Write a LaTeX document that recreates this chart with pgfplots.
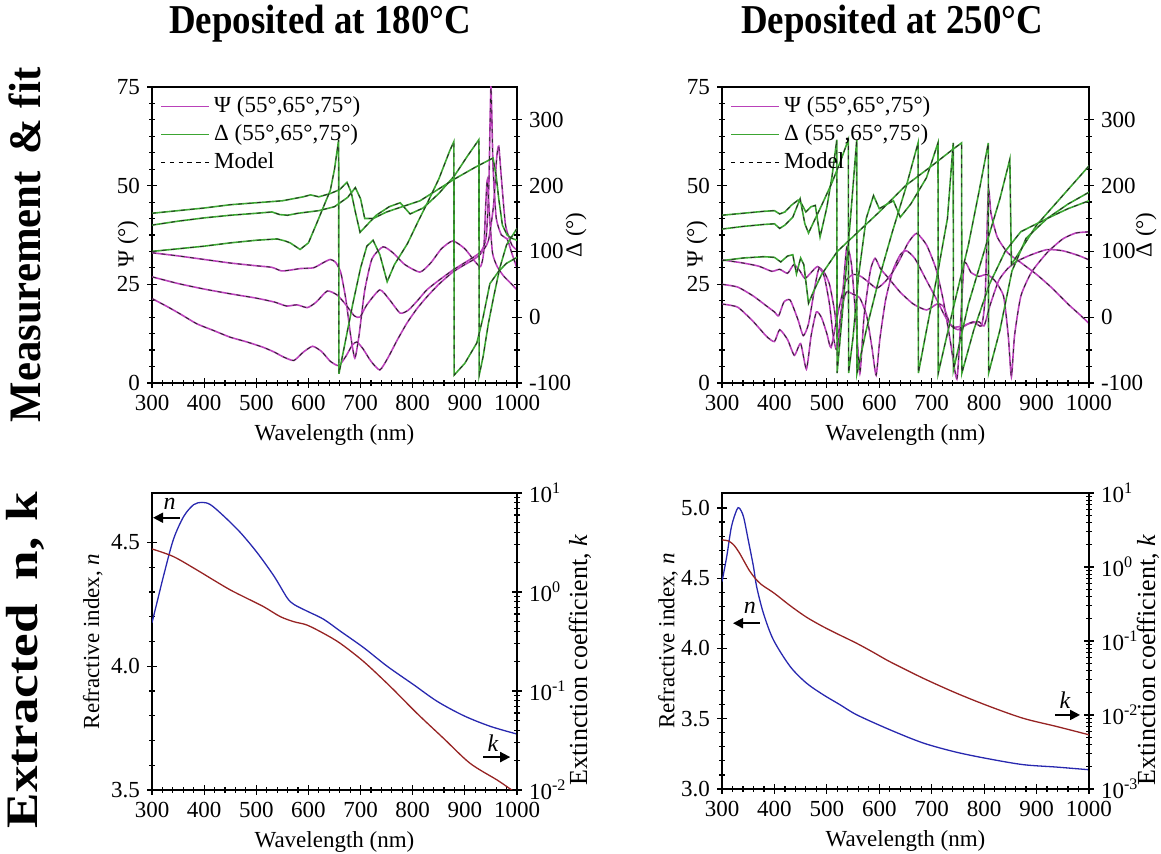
\documentclass[border=0pt]{standalone}
\usepackage{fontspec}
\setmainfont{Liberation Serif}
\usepackage{graphicx}
\usepackage{pgfplots}
\pgfplotsset{compat=1.18}
\usepackage{pgfplotstable}
\usetikzlibrary{arrows.meta}

\definecolor{psicol}{RGB}{185,65,185}
\definecolor{delcol}{RGB}{60,165,50}
\definecolor{ncol}{RGB}{40,40,175}
\definecolor{kcol}{RGB}{150,35,35}

\pgfplotsset{
  base/.style={scale only axis, xmin=300, xmax=1000, tick align=center, clip mode=individual,
    major tick length=5pt, minor tick length=3pt,
    every tick/.append style={black, line width=0.6pt},
    axis line style={line width=0.7pt},
    ticklabel style={font=\fontsize{11.5}{13}\selectfont},
    label style={font=\fontsize{11.5}{13}\selectfont},
    /pgf/number format/assume math mode=true,
    /pgf/number format/1000 sep={},
    xtick={300,400,...,1000}, minor x tick num=4,
    xlabel style={at={(axis description cs:0.5,-0.175)}, anchor=center}},
  psi/.style={psicol, line width=0.8pt, smooth, tension=0.35, forget plot},
  mpsi/.style={black!85, dash pattern=on 2pt off 2.8pt, line width=0.4pt, smooth, tension=0.35, forget plot},
  del/.style={delcol, line width=0.8pt, forget plot},
  mdel/.style={black!85, dash pattern=on 2pt off 2.8pt, line width=0.4pt, forget plot},
  leg/.style={legend style={draw=none, fill=none, at={(0.005,0.995)}, anchor=north west,
      font=\fontsize{11.5}{13}\selectfont, row sep=0.5pt},
    legend cell align=left,
    legend image code/.code={\draw[##1] (0cm,0cm) -- (0.85cm,0cm);}}
}

% ---------------- 180 C : Psi ----------------
\pgfplotstableread[row sep=\\]{x y\\
300 33.0\\ 350 32.2\\ 400 31.3\\ 450 30.4\\ 500 29.7\\ 530 29.3\\ 548 28.4\\ 565 28.6\\ 585 29.0\\ 610 29.2\\
630 30.6\\ 642 31.3\\ 652 30.6\\ 662 28.0\\ 672 21.0\\ 681 12.0\\ 689 6.3\\ 697 12.0\\ 708 23.5\\ 722 31.5\\
743 34.5\\ 762 33.0\\ 785 30.0\\ 814 28.1\\ 835 30.5\\ 855 34.0\\ 877 36.0\\ 900 34.0\\ 918 31.0\\ 930 29.5\\
936 33.0\\ 940 45.0\\ 943 51.4\\ 947 43.0\\ 953 33.0\\ 962 29.5\\ 975 27.0\\ 990 25.0\\ 1000 23.6\\
}\psiA
\pgfplotstableread[row sep=\\]{x y\\
300 26.9\\ 350 25.2\\ 400 23.8\\ 450 22.6\\ 500 21.5\\ 535 20.5\\ 558 19.5\\ 578 19.8\\ 598 19.1\\ 615 20.5\\
636 23.3\\ 655 22.3\\ 672 19.8\\ 688 17.0\\ 699 16.7\\ 712 19.8\\ 737 23.6\\ 756 21.0\\ 776 17.7\\ 792 18.5\\
810 21.0\\ 827 23.6\\ 850 26.0\\ 877 28.6\\ 900 30.5\\ 918 32.0\\ 932 33.5\\ 941 37.0\\ 946 50.0\\ 950 75.0\\
954 55.0\\ 960 42.0\\ 970 37.5\\ 981 36.5\\ 991 32.5\\ 1000 29.1\\
}\psiB
\pgfplotstableread[row sep=\\]{x y\\
300 21.4\\ 330 19.3\\ 354 17.5\\ 386 15.0\\ 418 13.3\\ 450 11.6\\ 482 10.4\\ 514 9.0\\ 535 7.8\\ 552 6.6\\
572 5.7\\ 590 7.8\\ 608 9.3\\ 625 8.0\\ 642 5.5\\ 658 4.4\\ 672 6.8\\ 684 9.6\\ 693 10.4\\ 705 8.6\\
720 5.5\\ 737 3.3\\ 753 6.5\\ 770 10.8\\ 789 15.2\\ 808 18.8\\ 827 21.8\\ 850 25.0\\ 877 28.1\\ 900 30.0\\
916 31.2\\ 930 32.7\\ 945 36.0\\ 955 45.0\\ 961 57.0\\ 965 60.0\\ 970 52.0\\ 978 40.0\\ 990 35.0\\ 1000 33.7\\
}\psiC
% ---------------- 180 C : Delta ----------------
\pgfplotstableread[row sep=\\]{x y\\
300 158\\ 350 162\\ 400 166\\ 450 171\\ 500 174\\ 550 177\\ 590 183\\ 604 186\\ 620 183\\ 642 188\\
660 194\\ 674 205\\ 682 190\\ 690 160\\ 699 129\\ 712 140\\ 730 155\\ 755 168\\ 776 174\\ 795 157\\
820 166\\ 850 188\\ 880 215\\ 905 245\\ 927 270\\ 927.5 -88\\ 935 -60\\ 945 -10\\ 955 30\\ 967 75\\
980 110\\ 1000 135\\
}\delA
\pgfplotstableread[row sep=\\]{x y\\
300 140\\ 350 146\\ 400 151\\ 450 155\\ 500 158\\ 530 160\\ 545 156\\ 560 155\\ 580 158\\ 620 162\\
650 168\\ 675 182\\ 690 197\\ 700 180\\ 708 150\\ 724 150\\ 750 160\\ 780 168\\ 814 177\\ 850 195\\
880 210\\ 920 228\\ 954 242\\ 960 215\\ 965 180\\ 972 140\\ 981 125\\ 990 120\\ 1000 117\\
}\delB
\pgfplotstableread[row sep=\\]{x y\\
300 100\\ 350 104\\ 400 108\\ 450 113\\ 500 117\\ 540 119\\ 555 116\\ 565 113\\ 584 103\\ 600 113\\
616 143\\ 630 170\\ 642 193\\ 650 225\\ 658 270\\ 658.5 -86\\ 670 -40\\ 685 20\\ 700 75\\ 712 108\\
724 117\\ 737 95\\ 751 54\\ 765 80\\ 790 112\\ 810 145\\ 827 172\\ 850 210\\ 871 253\\ 879 267\\
879.5 -88\\ 900 -70\\ 923 -39\\ 935 0\\ 948 51\\ 965 70\\ 980 82\\ 1000 91\\
}\delC
% ---------------- 250 C : Psi ----------------
\pgfplotstableread[row sep=\\]{x y\\
300 31.2\\ 340 30.4\\ 370 29.6\\ 395 28.3\\ 410 28.8\\ 425 27.8\\ 437 30.0\\ 448 28.5\\ 458 26.5\\ 470 28.0\\
482 29.5\\ 495 28.0\\ 505 25.0\\ 515 18.0\\ 523 9.0\\ 530 22.0\\ 538 34.5\\ 547 30.0\\ 556 15.0\\ 563 2.4\\
571 17.0\\ 583 28.5\\ 592 31.6\\ 602 29.0\\ 618 26.5\\ 640 23.0\\ 665 20.0\\ 690 18.5\\ 710 20.0\\ 722 19.5\\
735 15.0\\ 750 13.5\\ 770 15.0\\ 790 15.5\\ 800 14.5\\ 812 20.0\\ 828 26.0\\ 845 29.0\\ 865 31.0\\ 890 32.5\\
920 33.8\\ 950 33.5\\ 980 32.3\\ 1000 31.2\\
}\psiD
\pgfplotstableread[row sep=\\]{x y\\
300 25.0\\ 330 24.3\\ 360 22.0\\ 385 19.5\\ 400 18.0\\ 408 17.0\\ 418 20.5\\ 430 21.0\\ 445 16.0\\ 455 12.0\\
465 15.0\\ 478 25.0\\ 485 29.0\\ 495 27.0\\ 505 20.0\\ 512 12.0\\ 519 8.4\\ 527 18.0\\ 537 23.0\\ 550 22.5\\
563 21.5\\ 576 17.0\\ 586 9.0\\ 594 2.0\\ 601 11.0\\ 612 21.0\\ 626 28.5\\ 640 32.5\\ 652 33.5\\ 668 31.5\\
690 26.0\\ 710 21.0\\ 725 17.0\\ 740 14.2\\ 760 14.5\\ 780 15.5\\ 795 14.5\\ 802 22.0\\ 808 48.9\\ 813 43.0\\
825 37.0\\ 845 33.0\\ 870 30.5\\ 900 27.5\\ 930 24.0\\ 960 20.0\\ 985 17.0\\ 1000 15.1\\
}\psiE
\pgfplotstableread[row sep=\\]{x y\\
300 20.0\\ 330 19.2\\ 360 15.5\\ 385 11.8\\ 400 10.5\\ 410 13.5\\ 425 11.0\\ 438 7.0\\ 450 10.0\\ 461 3.5\\
470 12.0\\ 480 18.0\\ 490 16.5\\ 500 12.5\\ 508 9.0\\ 520 17.0\\ 535 25.5\\ 550 27.5\\ 565 27.0\\ 580 25.5\\
595 24.0\\ 610 25.5\\ 625 28.0\\ 640 31.5\\ 655 35.5\\ 671 37.9\\ 690 35.0\\ 708 29.0\\ 722 21.0\\ 735 11.0\\
748 1.0\\ 755 15.0\\ 762 30.3\\ 775 28.0\\ 790 27.0\\ 805 27.5\\ 820 26.0\\ 837 22.0\\ 846 12.0\\ 852 1.6\\
858 12.0\\ 870 22.0\\ 890 28.0\\ 920 33.0\\ 950 36.5\\ 975 38.0\\ 1000 38.3\\
}\psiF
% ---------------- 250 C : Delta ----------------
\pgfplotstableread[row sep=\\]{x y\\
300 155\\ 340 158\\ 380 161\\ 400 162\\ 410 157\\ 420 160\\ 432 170\\ 445 178\\ 452 172\\ 460 160\\
470 168\\ 478 170\\ 487 122\\ 500 167\\ 510 215\\ 519 270\\ 519.5 -85\\ 530 10\\ 545 150\\ 557 270\\
557.5 -85\\ 575 -20\\ 600 60\\ 625 130\\ 650 195\\ 674 265\\ 674.5 -85\\ 690 -20\\ 712 70\\ 730 150\\
741 265\\ 741.5 -80\\ 770 20\\ 800 100\\ 830 180\\ 849 240\\ 852 80\\ 900 140\\ 950 185\\ 1000 230\\
}\delD
\pgfplotstableread[row sep=\\]{x y\\
300 134\\ 340 138\\ 380 141\\ 400 142\\ 410 135\\ 420 140\\ 435 152\\ 449 180\\ 458 142\\ 465 128\\
475 145\\ 490 170\\ 510 205\\ 525 235\\ 541 270\\ 541.5 -85\\ 550 -30\\ 560 60\\ 575 150\\ 589 185\\
600 165\\ 615 172\\ 627 177\\ 640 152\\ 660 172\\ 690 212\\ 712 265\\ 712.5 -85\\ 740 10\\ 770 110\\
790 190\\ 808 265\\ 808.5 -85\\ 830 -20\\ 853 70\\ 880 120\\ 920 150\\ 960 172\\ 1000 190\\
}\delE
\pgfplotstableread[row sep=\\]{x y\\
300 86\\ 340 90\\ 380 92\\ 400 91\\ 412 84\\ 425 93\\ 435 95\\ 442 66\\ 450 90\\ 456 80\\
465 21\\ 475 40\\ 490 65\\ 520 100\\ 560 130\\ 600 160\\ 650 200\\ 700 230\\ 740 255\\ 757 265\\
757.5 -85\\ 780 -20\\ 810 50\\ 840 100\\ 870 130\\ 920 150\\ 960 165\\ 1000 177\\
}\delF
% ---------------- n, k ----------------
\pgfplotstableread[row sep=\\]{x y\\
300 4.176\\ 311 4.27\\ 322 4.364\\ 341 4.512\\ 361 4.606\\ 380 4.653\\ 396 4.662\\ 412 4.653\\ 438 4.606\\
470 4.539\\ 502 4.458\\ 534 4.364\\ 559 4.277\\ 572 4.250\\ 597 4.223\\ 629 4.190\\ 661 4.142\\ 706 4.075\\
751 4.000\\ 802 3.925\\ 847 3.858\\ 898 3.800\\ 949 3.757\\ 1000 3.726\\
}\nA
\pgfplotstableread[row sep=\\]{x y\\
300 2.72\\ 341 2.28\\ 386 1.67\\ 418 1.32\\ 450 1.05\\ 482 0.863\\ 514 0.711\\ 546 0.564\\ 572 0.501\\
597 0.464\\ 629 0.382\\ 661 0.303\\ 706 0.198\\ 757 0.111\\ 808 0.0596\\ 859 0.0333\\ 910 0.0186\\
962 0.0126\\ 990 0.0100\\ 1000 0.0093\\
}\kA
\pgfplotstableread[row sep=\\]{x y\\
300 4.476\\ 309 4.654\\ 318 4.867\\ 328 4.986\\ 333 5.0\\ 341 4.938\\ 350 4.773\\ 360 4.583\\ 366 4.441\\
379 4.251\\ 398 4.062\\ 430 3.872\\ 461 3.754\\ 493 3.671\\ 525 3.600\\ 557 3.528\\ 620 3.422\\ 684 3.327\\
748 3.261\\ 811 3.213\\ 875 3.173\\ 938 3.156\\ 1000 3.137\\
}\nB
\pgfplotstableread[row sep=\\]{x y\\
300 2.32\\ 312 2.25\\ 322 2.0\\ 332 1.6\\ 342 1.2\\ 352 0.9\\ 362 0.72\\ 375 0.58\\ 400 0.44\\ 430 0.30\\
461 0.21\\ 493 0.156\\ 525 0.12\\ 557 0.093\\ 589 0.07\\ 620 0.0526\\ 684 0.0313\\ 748 0.0196\\
811 0.0130\\ 875 0.0090\\ 938 0.0070\\ 1000 0.0054\\
}\kB

\begin{document}
\begin{tikzpicture}
\path[use as bounding box] (0pt,0pt) rectangle (580.5pt,427pt);

% titles
\node[font=\bfseries\fontsize{20.5}{24}\selectfont] at (160pt,415pt) {\scalebox{0.9}[1]{Deposited at 180°C}};
\node[font=\bfseries\fontsize{20.5}{24}\selectfont] at (446pt,415pt) {\scalebox{0.9}[1]{Deposited at 250°C}};
\node[rotate=90, font=\bfseries\fontsize{22.5}{26}\selectfont] at (12.5pt,304.5pt) {\scalebox{0.95}[1]{Measurement\hspace{0.4em}\& fit}};
\node[rotate=90, font=\bfseries\fontsize{22.5}{26}\selectfont] at (12.5pt,97pt) {\scalebox{1.18}[1]{Extracted\hspace{0.45em}n,\hspace{0.3em}k}};

% axis labels placed absolutely
\node[rotate=90, font=\fontsize{11.5}{13}\selectfont] at (64pt,305pt) {Ψ (°)};
\node[rotate=90, font=\fontsize{11.5}{13}\selectfont] at (348.5pt,305pt) {Ψ (°)};
\node[rotate=90, font=\fontsize{11.5}{13}\selectfont] at (288pt,309.5pt) {Δ (°)};
\node[rotate=90, font=\fontsize{11.5}{13}\selectfont] at (573pt,309.5pt) {Δ (°)};
\node[rotate=90, font=\fontsize{13}{15}\selectfont] at (290pt,97pt) {Extinction coefficient, \textit{k}};
\node[rotate=90, font=\fontsize{13}{15}\selectfont] at (574pt,97pt) {Extinction coefficient, \textit{k}};

% ===== top-left =====
\begin{axis}[base, at={(76pt,235.5pt)}, anchor=south west, width=182.5pt, height=148pt,
  ymin=0, ymax=75, ytick={0,25,50,75}, minor y tick num=5, xtick pos=left, ytick pos=left,
  xlabel={Wavelength (nm)}]
\addplot[psi] table {\psiA}; \addplot[mpsi] table {\psiA};
\addplot[psi] table {\psiB}; \addplot[mpsi] table {\psiB};
\addplot[psi] table {\psiC}; \addplot[mpsi] table {\psiC};
\end{axis}
\begin{axis}[base, leg, at={(76pt,235.5pt)}, anchor=south west, width=182.5pt, height=148pt,
  hide x axis, axis y line*=right, ymin=-100, ymax=350, ytick={-100,0,100,200,300}, minor y tick num=3]
\addlegendimage{psicol, line width=0.8pt}\addlegendentry{Ψ (55°,65°,75°)}
\addlegendimage{delcol, line width=0.8pt}\addlegendentry{Δ (55°,65°,75°)}
\addlegendimage{black, dash pattern=on 2.2pt off 2.2pt, line width=0.5pt}\addlegendentry{Model}
\addplot[del] table {\delA}; \addplot[mdel] table {\delA};
\addplot[del] table {\delB}; \addplot[mdel] table {\delB};
\addplot[del] table {\delC}; \addplot[mdel] table {\delC};
\end{axis}

% ===== top-right =====
\begin{axis}[base, at={(361pt,235.5pt)}, anchor=south west, width=183.5pt, height=148pt,
  ymin=0, ymax=75, ytick={0,25,50,75}, minor y tick num=5, xtick pos=left, ytick pos=left,
  xlabel={Wavelength (nm)}]
\addplot[psi] table {\psiD}; \addplot[mpsi] table {\psiD};
\addplot[psi] table {\psiE}; \addplot[mpsi] table {\psiE};
\addplot[psi] table {\psiF}; \addplot[mpsi] table {\psiF};
\end{axis}
\begin{axis}[base, leg, at={(361pt,235.5pt)}, anchor=south west, width=183.5pt, height=148pt,
  hide x axis, axis y line*=right, ymin=-100, ymax=350, ytick={-100,0,100,200,300}, minor y tick num=3]
\addlegendimage{psicol, line width=0.8pt}\addlegendentry{Ψ (55°,65°,75°)}
\addlegendimage{delcol, line width=0.8pt}\addlegendentry{Δ (55°,65°,75°)}
\addlegendimage{black, dash pattern=on 2.2pt off 2.2pt, line width=0.5pt}\addlegendentry{Model}
\addplot[del] table {\delD}; \addplot[mdel] table {\delD};
\addplot[del] table {\delE}; \addplot[mdel] table {\delE};
\addplot[del] table {\delF}; \addplot[mdel] table {\delF};
\end{axis}

% ===== bottom-left =====
\begin{axis}[base, at={(76pt,32pt)}, anchor=south west, width=182.5pt, height=148.5pt,
  ymin=3.5, ymax=4.7, ytick={3.5,4.0,4.5}, minor y tick num=4, xtick pos=left, ytick pos=left,
  yticklabel style={/pgf/number format/fixed, /pgf/number format/fixed zerofill, /pgf/number format/precision=1},
  xlabel={Wavelength (nm)}, ylabel={Refractive index, \textit{n}},
  ylabel style={at={(axis description cs:-0.162,0.5)}, anchor=center}]
\addplot[ncol, line width=0.65pt, smooth] table {\nA};
\draw[-{Triangle[length=5pt,width=5pt]}, line width=0.9pt] (axis cs:354,4.60) -- (axis cs:302,4.60);
\node[font=\itshape\fontsize{12}{12}\selectfont] at (axis cs:334,4.655) {n};
\draw[-{Triangle[length=5pt,width=5pt]}, line width=0.9pt] (axis cs:935,3.633) -- (axis cs:987,3.633);
\node[font=\itshape\fontsize{12}{12}\selectfont] at (axis cs:954,3.69) {k};
\end{axis}
\begin{axis}[base, at={(76pt,32pt)}, anchor=south west, width=182.5pt, height=148.5pt,
  hide x axis, axis y line*=right, ymode=log, ymin=0.01, ymax=10,
  ytick={0.01,0.1,1,10}, yticklabels={10\textsuperscript{-2},10\textsuperscript{-1},10\textsuperscript{0},10\textsuperscript{1}},
  minor ytick={0.02,0.03,0.04,0.05,0.06,0.07,0.08,0.09,0.2,0.3,0.4,0.5,0.6,0.7,0.8,0.9,2,3,4,5,6,7,8,9}]
\addplot[kcol, line width=0.65pt, smooth] table {\kA};
\end{axis}

% ===== bottom-right =====
\begin{axis}[base, at={(361pt,32.5pt)}, anchor=south west, width=183.5pt, height=148pt,
  ymin=3.0, ymax=5.107, ytick={3.0,3.5,4.0,4.5,5.0}, minor y tick num=4, xtick pos=left, ytick pos=left,
  yticklabel style={/pgf/number format/fixed, /pgf/number format/fixed zerofill, /pgf/number format/precision=1},
  xlabel={Wavelength (nm)}, ylabel={Refractive index, \textit{n}},
  ylabel style={at={(axis description cs:-0.147,0.5)}, anchor=center}]
\addplot[ncol, line width=0.65pt, smooth] table {\nB};
\draw[-{Triangle[length=5pt,width=5pt]}, line width=0.9pt] (axis cs:372,4.18) -- (axis cs:321,4.18);
\node[font=\itshape\fontsize{12}{12}\selectfont] at (axis cs:353,4.29) {n};
\draw[-{Triangle[length=5pt,width=5pt]}, line width=0.9pt] (axis cs:935,3.527) -- (axis cs:983,3.527);
\node[font=\itshape\fontsize{12}{12}\selectfont] at (axis cs:954,3.63) {k};
\end{axis}
\begin{axis}[base, at={(361pt,32.5pt)}, anchor=south west, width=183.5pt, height=148pt,
  hide x axis, axis y line*=right, ymode=log, ymin=0.001, ymax=10,
  ytick={0.001,0.01,0.1,1,10}, yticklabels={10\textsuperscript{-3},10\textsuperscript{-2},10\textsuperscript{-1},10\textsuperscript{0},10\textsuperscript{1}},
  minor ytick={0.002,0.003,0.004,0.005,0.006,0.007,0.008,0.009,0.02,0.03,0.04,0.05,0.06,0.07,0.08,0.09,0.2,0.3,0.4,0.5,0.6,0.7,0.8,0.9,2,3,4,5,6,7,8,9}]
\addplot[kcol, line width=0.65pt, smooth] table {\kB};
\end{axis}
\end{tikzpicture}
\end{document}
